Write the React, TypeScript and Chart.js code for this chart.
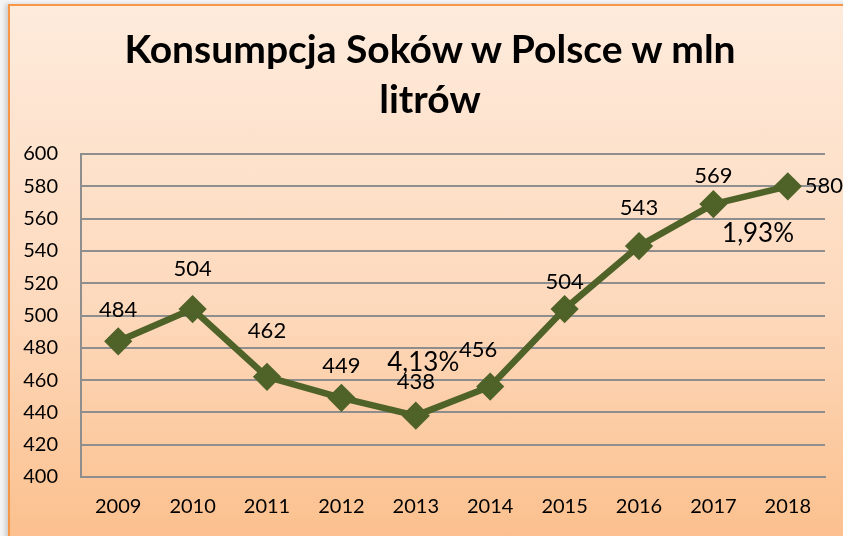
import React, { useEffect, useRef } from "react";
import { Chart, registerables } from "chart.js";

Chart.register(...registerables);

const TITLE_LINES = ["Konsumpcja Soków w Polsce w mln", "litrów"];
const YEARS = ["2009", "2010", "2011", "2012", "2013", "2014", "2015", "2016", "2017", "2018"];
const CONSUMPTION = [484, 504, 462, 449, 438, 456, 504, 543, 569, 580];
const Y_MIN = 400;
const Y_MAX = 600;
const Y_STEP = 20;
const NOTES = [
  { text: "4,13%", index: 4.1, value: 471 },
  { text: "1,93%", index: 8.6, value: 551 },
];

// label offsets (px) relative to each point, as placed in the original
const LABEL_OFFSETS: [number, number][] = [
  [0, -31], [0, -40], [0, -46], [0, -32], [0, -34],
  [-12, -37], [0, -27], [0, -38], [0, -28], [36, 0],
];

const LINE_COLOR = "#4F6228";
const FONT = "Lato, 'Open Sans', sans-serif";

const labelsPlugin = {
  id: "valueLabels",
  afterDatasetsDraw(chart: any) {
    const ctx = chart.ctx;
    const meta = chart.getDatasetMeta(0);
    const xs = chart.scales.x;
    const ys = chart.scales.y;
    ctx.save();
    ctx.fillStyle = "#000";
    ctx.textAlign = "center";
    ctx.textBaseline = "middle";
    ctx.font = `22px ${FONT}`;
    meta.data.forEach((pt: any, i: number) => {
      const [dx, dy] = LABEL_OFFSETS[i] || [0, -30];
      ctx.fillText(String(CONSUMPTION[i]), pt.x + dx, pt.y + dy);
    });
    ctx.font = `26px ${FONT}`;
    NOTES.forEach((n) => {
      const i0 = Math.floor(n.index);
      const x0 = xs.getPixelForValue(i0);
      const x1 = xs.getPixelForValue(i0 + 1);
      const x = x0 + (x1 - x0) * (n.index - i0);
      ctx.fillText(n.text, x, ys.getPixelForValue(n.value));
    });
    ctx.restore();
  },
};

export default function App() {
  const ref = useRef<HTMLCanvasElement | null>(null);
  useEffect(() => {
    if (!ref.current) return;
    const chart = new Chart(ref.current, {
      type: "line",
      data: {
        labels: YEARS,
        datasets: [
          {
            data: CONSUMPTION,
            borderColor: LINE_COLOR,
            backgroundColor: LINE_COLOR,
            borderWidth: 6.5,
            pointStyle: "rectRot",
            pointRadius: 12,
            pointBorderWidth: 3,
            pointBorderColor: LINE_COLOR,
            pointBackgroundColor: LINE_COLOR,
            borderJoinStyle: "round",
            tension: 0,
          },
        ],
      },
      options: {
        animation: false,
        responsive: false,
        maintainAspectRatio: false,
        layout: { padding: { left: 0, right: 18, top: 154, bottom: 0 } },
        plugins: {
          legend: { display: false },
          tooltip: { enabled: false },
          title: { display: false },
        },
        scales: {
          x: {
            offset: true,
            grid: { display: false, drawTicks: false },
            border: { display: true, color: "#8E8E8E", width: 2 },
            ticks: { color: "#000", font: { family: FONT, size: 20 }, padding: 18, maxRotation: 0 },
            afterFit: (s: any) => { s.height = 59; },
          },
          y: {
            min: Y_MIN,
            max: Y_MAX,
            grid: { color: "#8E8E8E", lineWidth: 2, drawTicks: false },
            border: { display: true, color: "#8E8E8E", width: 2 },
            ticks: { stepSize: Y_STEP, color: "#000", font: { family: FONT, size: 20 }, padding: 23 },
            afterFit: (s: any) => { s.width = 81; },
          },
        },
      },
      plugins: [labelsPlugin],
    });
    return () => chart.destroy();
  }, []);

  return (
    <div style={{ position: "fixed", left: 0, top: 0, width: 843, height: 536, overflow: "hidden", background: "#f4f4f4" }}>
      <div
        style={{
          position: "absolute",
          left: 8,
          top: 4,
          width: 860,
          height: 560,
          boxSizing: "border-box",
          border: "2px solid #F79646",
          background: "linear-gradient(to bottom, #FEEBDC 0px, #FDD9BC 300px, #FBBD88 560px)",
          boxShadow: "-3px 0 4px rgba(0,0,0,0.15)",
        }}
      />
      <canvas ref={ref} width={843} height={536} style={{ position: "absolute", left: 0, top: 0, width: 843, height: 536 }} />
      <div
        style={{
          position: "absolute",
          left: 0,
          top: 23,
          width: 860,
          textAlign: "center",
          fontFamily: FONT,
          fontWeight: "bold",
          fontSize: 39,
          lineHeight: "50px",
          color: "#000",
          whiteSpace: "nowrap",
        }}
      >
        {TITLE_LINES.map((line) => (
          <div key={line}>{line}</div>
        ))}
      </div>
    </div>
  );
}
